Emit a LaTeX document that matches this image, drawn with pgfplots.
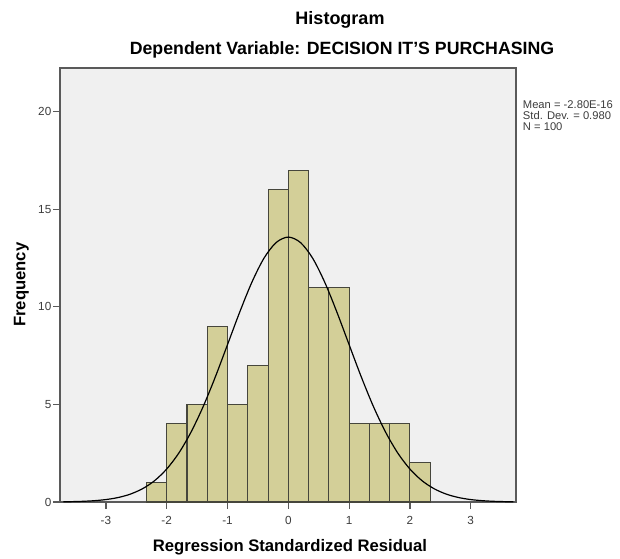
\documentclass[border=0pt]{standalone}
\usepackage{pgfplots}
\pgfplotsset{compat=1.18}
\usepackage{fontspec}
\setmainfont{Liberation Sans}
\definecolor{barfill}{RGB}{211,207,152}
\definecolor{bgc}{RGB}{240,240,240}
\definecolor{framec}{RGB}{90,90,90}
\definecolor{tickc}{RGB}{60,60,60}
\begin{document}
\begin{tikzpicture}
\useasboundingbox (-45pt,-42pt) rectangle (420pt,376.5pt);
\begin{axis}[
  at={(0,0)}, anchor=south west,
  scale only axis,
  width=342pt, height=325.5pt,
  xmin=-3.755, xmax=3.745,
  ymin=0, ymax=22.23,
  axis background/.style={fill=bgc},
  axis line style={framec, line width=1pt},
  xtick={-3,-2,-1,0,1,2,3},
  ytick={0,5,10,15,20},
  xticklabels={-3,-2,-1,0,1,2,3},
  yticklabels={0,5,10,15,20},
  tick align=outside,
  major tick length=5pt,
  xtick pos=bottom, ytick pos=left,
  tick style={framec, line width=0.9pt},
  ticklabel style={font=\fontsize{8.8}{10}\selectfont, text=tickc},
  /pgf/number format/assume math mode=true,
  xticklabel style={yshift=-2pt},
  yticklabel style={xshift=2pt},
  clip=false,
]
\addplot[ybar interval, fill=barfill, draw={rgb,255:red,70;green,70;blue,60}, line width=0.8pt]
coordinates {
(-2.3333,1) (-2,4) (-1.6667,5) (-1.3333,9) (-1,5) (-0.6667,7) (-0.3333,16)
(0,17) (0.3333,11) (0.6667,11) (1,4) (1.3333,4) (1.6667,4) (2,2) (2.3333,0)
};
\addplot[smooth, black, line width=0.9pt, mark=none] coordinates {
(-3.7,0.011) (-3.6,0.0159) (-3.4,0.033) (-3.2,0.0657) (-3.0,0.125) (-2.8,0.229)
(-2.6,0.402) (-2.4,0.677) (-2.2,1.09) (-2.0,1.69) (-1.8,2.51) (-1.6,3.58)
(-1.4,4.89) (-1.2,6.41) (-1.0,8.06) (-0.8,9.72) (-0.6,11.25) (-0.4,12.49)
(-0.2,13.29) (0,13.57) (0.2,13.29) (0.4,12.49) (0.6,11.25) (0.8,9.72)
(1.0,8.06) (1.2,6.41) (1.4,4.89) (1.6,3.58) (1.8,2.51) (2.0,1.69)
(2.2,1.09) (2.4,0.677) (2.6,0.402) (2.8,0.229) (3.0,0.125) (3.2,0.0657)
(3.4,0.033) (3.6,0.0159) (3.7,0.011)
};
\end{axis}
\node[font=\bfseries\fontsize{13.5}{15}\selectfont] at (210pt,361.5pt) {Histogram};
\node[font=\bfseries\fontsize{13.3}{15}\selectfont] at (211.5pt,339pt) {Dependent Variable: DECISION IT'S PURCHASING};
\node[anchor=north west, font=\fontsize{8.4}{8.3}\selectfont, align=left, inner sep=0pt, text=tickc] at (347pt,301.5pt) {Mean = -2.80E-16\\Std. Dev. = 0.980\\N = 100};
\node[rotate=90, font=\bfseries\fontsize{12.5}{14}\selectfont] at (-29pt,163pt) {Frequency};
\node[font=\bfseries\fontsize{12.5}{14}\selectfont] at (172.5pt,-33.75pt) {Regression Standardized Residual};
\end{tikzpicture}
\end{document}
